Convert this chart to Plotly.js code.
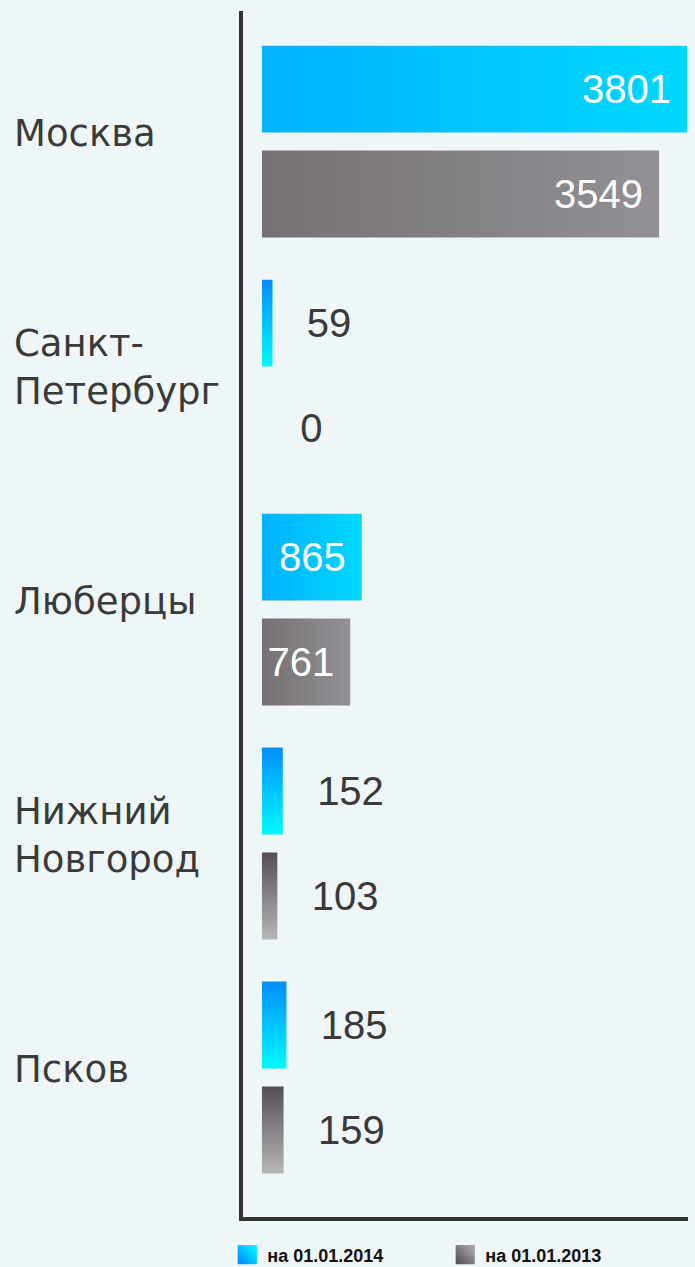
<!DOCTYPE html>
<html>
<head>
<meta charset="utf-8">
<script src="https://cdn.plot.ly/plotly-3.0.1.min.js"></script>
<style>
  html, body { margin: 0; padding: 0; background: #EEF6F8; }
  #chart { width: 695px; height: 1267px; }
</style>
</head>
<body>
<div id="chart"></div>
<script>
// ---- data ----
const categories = ['Москва', 'Санкт-Петербург', 'Люберцы', 'Нижний Новгород', 'Псков'];
const categoryLabels = ['Москва', 'Санкт-<br>Петербург', 'Люберцы', 'Нижний<br>Новгород', 'Псков'];
const values2014 = [3801, 59, 865, 152, 185];
const values2013 = [3549, 0, 761, 103, 159];
const seriesNames = ['на 01.01.2014', 'на 01.01.2013'];

// ---- style ----
const BG = '#EEF6F8';
const AXIS = '#333333';
const TEXT = '#3a3a3a';
const valueFont = 'Liberation Sans, Arial, sans-serif';
const labelFont = 'DejaVu Sans, sans-serif';
const LONG = 500; // bars longer than this keep their value inside

function positions(vals) { return vals.map(v => v > LONG ? 'inside' : 'outside'); }
function templates(vals) {
  return vals.map(v => v > LONG ? '%{x}\u00a0' : '\u00a0\u00a0\u00a0%{x}');
}

const common = {
  type: 'bar',
  orientation: 'h',
  y: categories,
  insidetextanchor: 'end',
  cliponaxis: false,
  insidetextfont: { family: valueFont, size: 40, color: '#ffffff' },
  outsidetextfont: { family: valueFont, size: 40, color: TEXT },
  hoverinfo: 'x+y'
};

const traces = [
  Object.assign({}, common, {
    name: seriesNames[0],
    x: values2014,
    textposition: positions(values2014),
    texttemplate: templates(values2014),
    marker: { color: '#00C4FF', line: { color: '#00C4FF', width: 4 } }
  }),
  Object.assign({}, common, {
    name: seriesNames[1],
    x: values2013,
    textposition: positions(values2013),
    texttemplate: templates(values2013),
    marker: { color: '#807D81', line: { color: '#807D81', width: 4 } }
  })
];

const annotations = categories.map((c, i) => ({
  xref: 'paper', yref: 'y',
  x: -0.52, y: c,
  xanchor: 'left', yanchor: 'middle',
  align: 'left',
  yshift: 8,
  showarrow: false,
  text: categoryLabels[i],
  font: { family: labelFont, size: 37, color: TEXT }
}));

const layout = {
  width: 695, height: 1267,
  paper_bgcolor: BG, plot_bgcolor: BG,
  margin: { l: 243, r: 7, t: 11, b: 50, pad: 0 },
  barmode: 'group',
  bargap: 0.103,
  bargroupgap: 0.21,
  showlegend: true,
  legend: {
    orientation: 'h',
    xref: 'container', yref: 'container',
    x: 0.327, xanchor: 'left',
    y: 0.0095, yanchor: 'middle',
    entrywidth: 173, entrywidthmode: 'pixels',
    traceorder: 'normal',
    bgcolor: 'rgba(0,0,0,0)',
    font: { family: 'Liberation Sans, Arial, sans-serif', size: 18, color: '#111111', weight: 'bold' }
  },
  xaxis: {
    range: [-189, 3828],
    showgrid: false, zeroline: false,
    showticklabels: false, ticks: '',
    showline: true, linecolor: AXIS, linewidth: 4,
    fixedrange: true
  },
  yaxis: {
    type: 'category',
    range: [4.596, -0.558],
    showgrid: false, zeroline: false,
    showticklabels: false, ticks: '',
    showline: true, linecolor: AXIS, linewidth: 4,
    fixedrange: true
  },
  annotations: annotations
};

function addGradients(gd) {
  const svg = gd.querySelector('svg.main-svg');
  const ns = 'http://www.w3.org/2000/svg';
  let defs = svg.querySelector('defs');
  if (!defs) { defs = document.createElementNS(ns, 'defs'); svg.insertBefore(defs, svg.firstChild); }
  const grads = {
    b_h: ['#00B2FF', '#00D8FF', true],
    b_v: ['#0090FF', '#00F8FF', false],
    g_h: ['#757175', '#929094', true],
    g_v: ['#555257', '#B5B5B5', false],
    b_l: ['#0090FF', '#00F0FF', 'diag'],
    g_l: ['#5a575b', '#a5a4a7', 'diag']
  };
  Object.keys(grads).forEach(id => {
    const [c1, c2, dir] = grads[id];
    const lg = document.createElementNS(ns, 'linearGradient');
    lg.setAttribute('id', 'grad_' + id);
    lg.setAttribute('x1', '0'); lg.setAttribute('y1', dir === 'diag' ? '1' : '0');
    lg.setAttribute('x2', dir === false ? '0' : '1');
    lg.setAttribute('y2', dir === false ? '1' : '0');
    [[0, c1], [1, c2]].forEach(([o, c]) => {
      const st = document.createElementNS(ns, 'stop');
      st.setAttribute('offset', o);
      st.setAttribute('stop-color', c);
      lg.appendChild(st);
    });
    defs.appendChild(lg);
  });
  const traceGroups = gd.querySelectorAll('.barlayer .trace');
  traceGroups.forEach((tg, ti) => {
    const vals = ti === 0 ? values2014 : values2013;
    const pre = ti === 0 ? 'b' : 'g';
    tg.querySelectorAll('.point path').forEach((p, pi) => {
      const id = 'grad_' + pre + '_' + (vals[pi] > LONG ? 'h' : 'v');
      p.style.fill = 'url(#' + id + ')';
      p.style.stroke = 'url(#' + id + ')';
    });
  });
  gd.querySelectorAll('.legend .traces').forEach((lt, ti) => {
    const id = 'grad_' + (ti === 0 ? 'b' : 'g') + '_l';
    lt.querySelectorAll('.legendpoints path').forEach(p => {
      p.style.fill = 'url(#' + id + ')';
      p.style.stroke = 'url(#' + id + ')';
      const t = p.getAttribute('transform') || '';
      p.setAttribute('transform', t + ' scale(1.2)');
    });
  });
}

Plotly.newPlot('chart', traces, layout, { staticPlot: true, displayModeBar: false })
  .then(addGradients);
</script>
</body>
</html>
